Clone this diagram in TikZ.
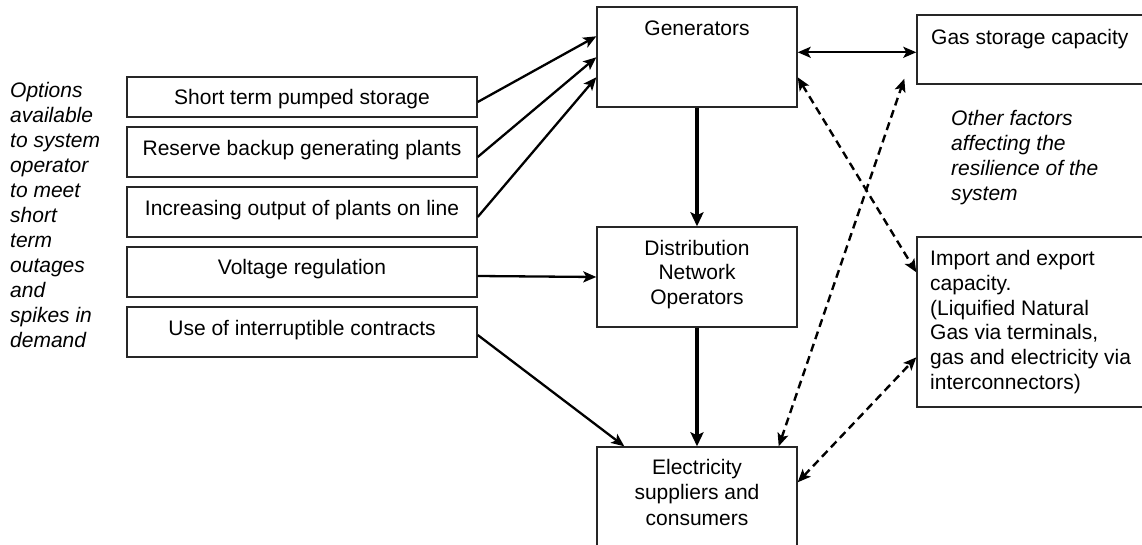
\documentclass[tikz,border=0pt]{standalone}
\usepackage{fontspec}
\setmainfont{Liberation Sans}
\usetikzlibrary{arrows.meta,calc}
\begin{document}
\begin{tikzpicture}[x=1pt,y=-1pt,
  box/.style={draw=black!85, line width=1.4pt, inner sep=0pt, fill=none},
  txt/.style={inner sep=0pt, font=\fontsize{21pt}{25pt}\selectfont},
  itxt/.style={inner sep=0pt, align=left, font=\fontsize{21pt}{25pt}\selectfont\itshape},
  tip/.style={},
  arr/.style={line width=2.3pt, -{Stealth[length=13pt,width=11pt,inset=3pt]}},
  thickarr/.style={line width=4pt, -{Stealth[length=14pt,width=13pt,inset=3pt]}},
  darr/.style={line width=2.4pt, dash pattern=on 8pt off 5pt,
    {Stealth[length=13pt,width=11pt,inset=3pt]}-{Stealth[length=13pt,width=11pt,inset=3pt]}},
  biarr/.style={line width=2.3pt,
    {Stealth[length=13pt,width=11pt,inset=3pt]}-{Stealth[length=13pt,width=11pt,inset=3pt]}}]
\useasboundingbox (0,0) rectangle (1142,545);
\clip (0,0) rectangle (1142,545);
\fill[white] (0,0) rectangle (1142,545);

% left caption
\node[itxt, anchor=west] (opt) at (10,215) {Options\\available\\to system\\operator\\to meet\\short\\term\\outages\\and\\spikes in\\demand};

% left option boxes
\node[box, minimum width=350pt, minimum height=40pt] (s1) at (302,97) {};
\node[box, minimum width=350pt, minimum height=50pt] (s2) at (302,152) {};
\node[box, minimum width=350pt, minimum height=50pt] (s3) at (302,212) {};
\node[box, minimum width=350pt, minimum height=50pt] (s4) at (302,272) {};
\node[box, minimum width=350pt, minimum height=50pt] (s5) at (302,332) {};
\node[txt, anchor=base] (s1t) at (302,104.5) {Short term pumped storage};
\node[txt, anchor=base] (s2t) at (302,155.5) {Reserve backup generating plants};
\node[txt, anchor=base] (s3t) at (302,215.5) {Increasing output of plants on line};
\node[txt, anchor=base] (s4t) at (302,274.5) {Voltage regulation};
\node[txt, anchor=base] (s5t) at (302,335.5) {Use of interruptible contracts};

% central column
\node[box, minimum width=200pt, minimum height=100pt] (gen) at (697,57) {};
\node[txt, anchor=base] (gent) at (697,35.5) {Generators};
\node[box, minimum width=200pt, minimum height=100pt] (dno) at (697,277) {};
\node[txt, align=center, font=\fontsize{21pt}{24.5pt}\selectfont] (dnot) at (697,274.5) {Distribution\\Network\\Operators};
\node[box, minimum width=200pt, minimum height=123pt] (ele) at (697,508.5) {};
\node[txt, align=center, font=\fontsize{21pt}{25.5pt}\selectfont] (elet) at (697,492) {Electricity\\suppliers and\\consumers};

% right column
\node[box, minimum width=243pt, minimum height=69pt] (gas) at (1038.5,49.5) {};
\node[txt, anchor=base west] (gast) at (931,44.5) {Gas storage capacity};
\node[itxt, anchor=west] (oth) at (951,157.5) {Other factors\\affecting the\\resilience of the\\system};
\node[box, minimum width=243pt, minimum height=170pt] (imp) at (1038.5,322) {};
\node[txt, anchor=west, align=left, font=\fontsize{21pt}{24.8pt}\selectfont] (impt) at (930,322) {Import and export\\capacity.\\(Liquified Natural\\Gas via terminals,\\gas and electricity via\\interconnectors)};

% connectors
\draw[arr] ([yshift=-5pt]s1.east) -- ([yshift=-30pt]gen.north west);
\draw[arr] ([yshift=-5pt]s2.east) -- ([yshift=-51pt]gen.north west);
\draw[arr] ([yshift=-5pt]s3.east) -- ([yshift=-71pt]gen.north west);
\draw[arr] ([yshift=-4pt]s4.east) -- (dno.west);
\draw[arr] ([yshift=-3pt]s5.east) -- ([xshift=28pt]ele.north west);
\draw[thickarr] (gen.south) -- (dno.north);
\draw[thickarr] (dno.south) -- (ele.north);
\draw[biarr] ([yshift=-46pt]gen.north east) -- ([yshift=-38pt]gas.north west);
\draw[darr] ([yshift=-71pt]gen.north east) -- ([yshift=-36pt]imp.north west);
\draw[darr] ([xshift=-19pt]ele.north east) -- ([xshift=-12pt,yshift=6pt]gas.south west);
\draw[darr] ([yshift=-36pt]ele.north east) -- ([yshift=-121pt]imp.north west);
\end{tikzpicture}
\end{document}
